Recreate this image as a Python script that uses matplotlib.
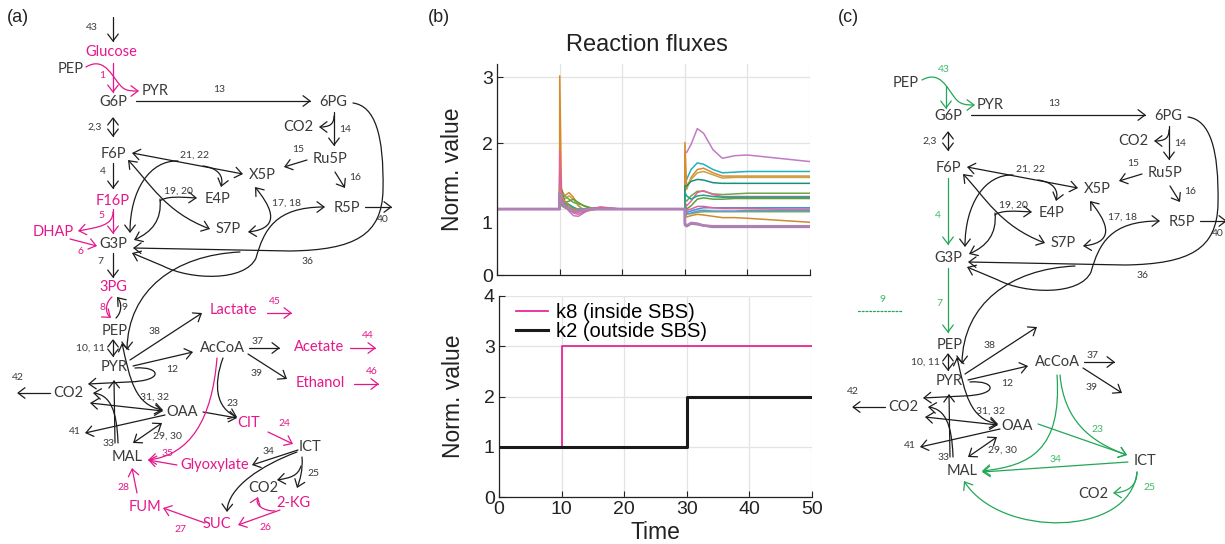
import matplotlib
matplotlib.use('Agg')
import matplotlib.pyplot as plt
from matplotlib.path import Path
from matplotlib.patches import FancyArrowPatch
import matplotlib.transforms as mtransforms

# ------------------------------------------------------------------ data (b)
time_pts = [0, 10, 10.02, 10.3, 10.8, 11.5, 12.2, 13, 14, 15, 16.5, 18, 20,
            30, 30.02, 30.3, 31, 32, 33, 34.5, 36, 38, 40, 45, 50]
flux_purple = [1, 1, 1.78, 1.2, 1.05, 0.97, 0.9, 0.89, 0.95, 1.0, 1.03, 1.02, 1.0,
               1.0, 1.85, 1.86, 1.98, 2.22, 2.15, 1.9, 1.77, 1.81, 1.82, 1.77, 1.72]
flux_cyan = [1, 1, 1.5, 1.22, 1.1, 1.07, 1.03, 0.98, 0.97, 0.99, 1.02, 1.01, 1.0,
             1.0, 1.4, 1.45, 1.6, 1.7, 1.68, 1.6, 1.55, 1.56, 1.57, 1.57, 1.57]
flux_orange = [1, 1, 3.02, 1.3, 1.2, 1.25, 1.18, 1.05, 0.97, 0.98, 1.01, 1.01, 1.0,
               1.0, 2.01, 1.3, 1.48, 1.6, 1.62, 1.55, 1.5, 1.5, 1.5, 1.5, 1.5]
flux_olive = [1, 1, 1.35, 1.2, 1.15, 1.2, 1.15, 1.05, 0.98, 0.99, 1.01, 1.0, 1.0,
              1.0, 1.3, 1.35, 1.45, 1.55, 1.57, 1.52, 1.47, 1.48, 1.48, 1.48, 1.48]
flux_teal = [1, 1, 1.55, 1.3, 1.12, 1.06, 1.0, 0.97, 0.98, 1.0, 1.01, 1.0, 1.0,
             1.0, 1.35, 1.35, 1.42, 1.45, 1.44, 1.4, 1.39, 1.39, 1.39, 1.39, 1.39]
flux_green = [1, 1, 1.45, 1.25, 1.2, 1.15, 1.1, 1.08, 1.05, 1.02, 1.01, 1.0, 1.0,
              1.0, 1.15, 1.12, 1.2, 1.27, 1.27, 1.23, 1.22, 1.23, 1.24, 1.24, 1.24]
flux_pink = [1, 1, 1.88, 1.25, 1.08, 1.0, 0.94, 0.92, 0.96, 1.0, 1.03, 1.01, 1.0,
             1.0, 1.1, 1.05, 1.12, 1.25, 1.28, 1.22, 1.19, 1.19, 1.19, 1.19, 1.19]
flux_teal2 = [1, 1, 1.3, 1.15, 1.08, 1.05, 1.02, 1.0, 1.0, 1.0, 1.0, 1.0, 1.0,
              1.0, 1.25, 1.2, 1.15, 1.2, 1.21, 1.19, 1.18, 1.18, 1.18, 1.18, 1.18]
flux_green2 = [1, 1, 1.2, 1.12, 1.1, 1.12, 1.15, 1.1, 1.04, 1.01, 1.0, 1.0, 1.0,
               1.0, 1.08, 1.0, 1.05, 1.15, 1.17, 1.15, 1.15, 1.16, 1.16, 1.16, 1.16]
flux_blue = [1, 1, 1.25, 1.12, 1.06, 1.02, 0.98, 0.97, 0.99, 1.0, 1.0, 1.0, 1.0,
             1.0, 1.05, 0.95, 0.97, 1.0, 1.02, 1.02, 1.02, 1.02, 1.02, 1.02, 1.02]
flux_pink2 = [1, 1, 1.6, 1.15, 1.03, 0.98, 0.95, 0.95, 0.98, 1.01, 1.02, 1.0, 1.0,
              1.0, 1.02, 0.98, 1.0, 1.04, 1.04, 1.02, 1.01, 1.01, 1.01, 1.0, 1.0]
flux_green3 = [1, 1, 1.1, 1.05, 1.02, 1.0, 0.99, 1.0, 1.0, 1.0, 1.0, 1.0, 1.0,
               1.0, 0.97, 0.93, 0.93, 0.95, 0.96, 0.96, 0.96, 0.96, 0.96, 0.96, 0.96]
flux_blue2 = [1, 1, 1.15, 1.08, 1.03, 1.0, 0.99, 1.0, 1.0, 1.0, 1.0, 1.0, 1.0,
              1.0, 0.98, 0.92, 0.94, 0.97, 0.98, 0.97, 0.97, 0.97, 0.98, 0.98, 0.98]
flux_orange2 = [1, 1, 1.3, 1.2, 1.12, 1.05, 1.0, 0.98, 0.99, 1.0, 1.0, 1.0, 1.0,
                1.0, 0.95, 0.88, 0.9, 0.92, 0.91, 0.89, 0.87, 0.87, 0.86, 0.83, 0.8]
flux_mauve = [1, 1, 1.2, 1.1, 1.04, 1.0, 0.97, 0.97, 0.99, 1.0, 1.0, 1.0, 1.0,
              1.0, 0.76, 0.74, 0.78, 0.77, 0.75, 0.73, 0.73, 0.73, 0.73, 0.73, 0.73]
flux_purple2 = [1, 1, 1.25, 1.12, 1.05, 1.0, 0.96, 0.96, 0.99, 1.0, 1.0, 1.0, 1.0,
                1.0, 0.78, 0.75, 0.79, 0.78, 0.75, 0.74, 0.74, 0.74, 0.74, 0.74, 0.74]

k8_time = [0, 10, 50]
k8_value = [1, 3, 3]
k2_time = [0, 30, 50]
k2_value = [1, 2, 2]
legend_labels = ['k8 (inside SBS)', 'k2 (outside SBS)']

# ------------------------------------------------------------------ figure
fig = plt.figure(figsize=(12.25, 5.44), dpi=100)
PLOT_FONT = ['Liberation Sans', 'DejaVu Sans']
DIAG_FONT = ['Lato', 'DejaVu Sans']

dax = fig.add_axes([0, 0, 1, 1])
dax.set_xlim(0, 1225)
dax.set_ylim(544, 0)
dax.axis('off')

TXT = '#3a3a3a'
LINE = '#1c1c1c'
PINK = '#e5178b'
GREEN = '#23a657'
GREEN_T = '#3cbc66'
NODE_FS = 10.5
NUM_FS = 7.5


def mkpath(spec, dx, dy):
    verts, codes = [], []
    x0, y0 = spec[0]
    verts.append((x0 + dx, y0 + dy)); codes.append(Path.MOVETO)
    for item in spec[1:]:
        if isinstance(item[0], (tuple, list)):
            for p in item:
                verts.append((p[0] + dx, p[1] + dy)); codes.append(Path.CURVE4)
        else:
            verts.append((item[0] + dx, item[1] + dy)); codes.append(Path.LINETO)
    return Path(verts, codes)


def arrow(spec, color=LINE, style='->', dx=0, dy=0, lw=0.9, ls='-'):
    if style == '-':
        st = '-'
    else:
        st = style + ',head_length=0.5,head_width=0.38'
    p = FancyArrowPatch(path=mkpath(spec, dx, dy), arrowstyle=st, mutation_scale=10,
                        color=color, lw=lw, linestyle=ls)
    dax.add_patch(p)


def txt(x, y, s, color=TXT, fs=NODE_FS, dx=0, dy=0):
    dax.text(x + dx, y + dy, s, color=color, fontsize=fs, ha='center', va='center',
             family=DIAG_FONT)


# ---------------- common network part (panel a coordinates)
common_nodes = ['PEP', 'PYR', 'G6P', '6PG', 'CO2', 'Ru5P', 'F6P', 'X5P', 'E4P', 'S7P',
                'R5P', 'G3P', 'PEP', 'PYR', 'AcCoA', 'CO2', 'OAA', 'MAL']
common_node_xy = [(71, 69), (155, 91), (113, 102), (333, 102), (298, 127), (330, 159),
                  (113, 154), (262, 175), (217, 199), (228, 229), (347, 208), (113, 244),
                  (115, 331), (114, 367), (222, 348), (68, 393), (182, 412), (127, 457)]
common_nums = ['13', '2,3', '14', '15', '16', '21, 22', '19, 20', '17, 18', '40', '36',
               '10, 11', '38', '12', '37', '39', '42', '31, 32', '41', '29, 30', '33']
common_num_xy = [(219, 90), (95, 127), (345, 130), (298, 150), (355, 177), (195, 155),
                 (178, 191), (287, 203), (383, 220), (308, 262), (90, 348), (155, 331),
                 (172, 369), (258, 341), (257, 373), (18, 377), (155, 397), (75, 432),
                 (167, 436), (109, 443)]

common_arrows = [
    ([(136, 101), (311, 101)], '->'),
    ([(113, 117), (113, 137)], '<->'),
    ([(334, 112), (334, 146)], '->'),
    ([(334, 116), ((334, 124), (330, 127), (319, 127))], '->'),
    ([(307, 160), (284, 167)], '->'),
    ([(335, 172), (345, 188)], '->'),
    ([(365, 207), (392, 207)], '->'),
    ([(132, 153), (243, 174)], '<->'),
    ([(178, 161), ((150, 160), (130, 190), (130, 233))], '->'),
    ([(203, 166), ((218, 168), (224, 176), (221, 187))], '->'),
    ([(128, 160), ((150, 183), (165, 212), (210, 229))], '<->'),
    ([(160, 201), ((166, 196), (180, 197), (197, 198))], '->'),
    ([(160, 199), ((162, 220), (152, 232), (134, 240))], '->'),
    ([(255, 187), ((268, 203), (285, 228), (248, 232))], '<->'),
    ([(132, 253), (163, 266), ((190, 280), (245, 282), (256, 258)),
      ((264, 230), (275, 207), (325, 207))], '<->'),
    ([(353, 103), ((375, 106), (384, 135), (383, 190)),
      ((382, 235), (355, 250), (290, 251)), (133, 248)], '->'),
    ([(240, 252), ((175, 255), (128, 290), (127, 350))], '->'),
    ([(113, 339), (113, 357)], '<->'),
    ([(130, 360), (202, 313)], '->'),
    ([(133, 366), (193, 352)], '->'),
    ([(135, 368), ((160, 366), (166, 381), (128, 382)), (88, 384)], '->'),
    ([(249, 348), (280, 348)], '->'),
    ([(248, 354), (287, 379)], '->'),
    ([(50, 393), (17, 393)], '->'),
    ([(122, 343), ((130, 380), (135, 405), (163, 410))], '<->'),
    ([(90, 403), (163, 411)], '<->'),
    ([(165, 415), (85, 433)], '->'),
    ([(133, 443), (162, 423)], '<->'),
    ([(115, 443), (114, 380)], '->'),
    ([(118, 443), ((117, 410), (110, 395), (93, 393))], '->'),
]


def draw_common(dx, dy):
    for s, (x, y) in zip(common_nodes, common_node_xy):
        txt(x, y, s, dx=dx, dy=dy)
    for s, (x, y) in zip(common_nums, common_num_xy):
        txt(x, y, s, fs=NUM_FS, dx=dx, dy=dy)
    for spec, st in common_arrows:
        arrow(spec, style=st, dx=dx, dy=dy)


# ---------------- panel (a)
draw_common(0, 0)
a_pink_nodes = ['Glucose', 'F16P', 'DHAP', '3PG', 'Lactate', 'Acetate', 'Ethanol', 'CIT',
                'Glyoxylate', '2-KG', 'SUC', 'FUM']
a_pink_xy = [(111, 52), (113, 201), (53, 232), (113, 287), (233, 310), (319, 347),
             (320, 383), (249, 423), (215, 465), (293, 503), (217, 524), (145, 507)]
for s, (x, y) in zip(a_pink_nodes, a_pink_xy):
    txt(x, y, s, color=PINK)
txt(310, 447, 'ICT')
txt(263, 488, 'CO2')
a_pink_nums = ['1', '5', '6', '8', '45', '44', '46', '24', '35', '26', '27', '28']
a_pink_num_xy = [(102, 76), (101, 215), (81, 252), (102, 307), (275, 302), (368, 335),
                 (372, 371), (284, 424), (168, 454), (265, 527), (180, 529), (123, 487)]
for s, (x, y) in zip(a_pink_nums, a_pink_num_xy):
    txt(x, y, s, color=PINK, fs=NUM_FS)
a_dark_nums = ['43', '4', '7', '9', '23', '34', '25']
a_dark_num_xy = [(92, 28), (103, 172), (100, 262), (125, 307), (232, 404), (268, 452),
                 (313, 473)]
for s, (x, y) in zip(a_dark_nums, a_dark_num_xy):
    txt(x, y, s, fs=NUM_FS)

arrow([(113, 17), (113, 42)])
arrow([(113, 63), (113, 93)], PINK)
arrow([(86, 67), ((106, 55), (113, 80), (123, 88)), ((127, 91), (132, 91), (139, 91))], PINK)
arrow([(113, 163), (113, 189)])
arrow([(113, 209), (113, 234)], PINK)
arrow([(113, 212), ((113, 225), (100, 227), (78, 231))], PINK)
arrow([(70, 239), (97, 246)], PINK)
arrow([(113, 253), (113, 278)])
arrow([(112, 297), ((105, 303), (105, 313), (111, 318))], PINK)
arrow([(116, 318), ((122, 312), (122, 303), (117, 297))])
arrow([(267, 313), (292, 313)], PINK)
arrow([(350, 348), (376, 348)], PINK)
arrow([(354, 384), (379, 384)], PINK)
arrow([(223, 358), ((213, 385), (216, 408), (237, 417))])
arrow([(203, 412), (237, 418)])
arrow([(268, 432), (293, 444)], PINK)
arrow([(298, 450), (252, 465)])
arrow([(177, 465), (148, 460)], PINK)
arrow([(217, 358), ((212, 420), (190, 455), (148, 460))], PINK)
arrow([(297, 452), ((262, 465), (228, 487), (227, 512))])
arrow([(302, 457), ((303, 470), (300, 480), (297, 488))])
arrow([(301, 466), ((298, 476), (290, 478), (277, 480))])
arrow([(280, 510), (238, 525)], PINK)
arrow([(275, 511), ((263, 511), (255, 505), (258, 497))], PINK)
arrow([(205, 523), (163, 508)], PINK)
arrow([(137, 493), (132, 468)], PINK)

# ---------------- panel (c)
OX, OY = 835, 14
draw_common(OX, OY)
txt(1145, 461, 'ICT')
txt(1093, 494, 'CO2')
c_green_nums = ['43', '4', '7', '9', '23', '34', '25']
c_green_num_xy = [(944, 69), (938, 216), (939, 303), (882, 299), (1097, 430), (1055, 460),
                  (1149, 488)]
for s, (x, y) in zip(c_green_nums, c_green_num_xy):
    txt(x, y, s, color=GREEN_T, fs=NUM_FS)
arrow([(922, 80), ((940, 70), (947, 88), (955, 98)), ((960, 105), (967, 105), (975, 105))], GREEN)
arrow([(946, 86), (946, 109)], GREEN)
arrow([(948, 178), (948, 245)], GREEN)
arrow([(948, 268), (948, 333)], GREEN)
arrow([(858, 311), (903, 311)], GREEN, style='-', ls=(0, (1.5, 1.5)))
arrow([(1038, 424), (1127, 455)], GREEN)
arrow([(1060, 375), ((1064, 420), (1090, 442), (1127, 455))], GREEN)
arrow([(1057, 375), ((1062, 450), (1030, 466), (982, 471))], GREEN)
arrow([(1128, 462), (982, 472)], GREEN)
arrow([(1137, 472), ((1137, 486), (1128, 492), (1113, 493))], GREEN)
arrow([(1137, 472), ((1130, 538), (1000, 538), (964, 481))], GREEN)

# panel letters
for s, x in zip(['(a)', '(b)', '(c)'], [7, 428, 838]):
    dax.text(x, 18, s, fontsize=13, ha='left', va='center', family=PLOT_FONT, color='#222222')

# ------------------------------------------------------------------ panel (b)
W = 1225.0
H = 544.0
ax1 = fig.add_axes([497 / W, 1 - 275 / H, 313 / W, 211 / H])
ax2 = fig.add_axes([499 / W, 1 - 497 / H, 313 / W, 201 / H])

flux_series = [flux_purple, flux_cyan, flux_orange, flux_olive, flux_teal, flux_green,
               flux_pink, flux_teal2, flux_green2, flux_blue, flux_pink2, flux_green3,
               flux_blue2, flux_orange2, flux_mauve, flux_purple2]
flux_colors = ['#c07bc5', '#1fb1c0', '#d98b2c', '#c9a246', '#14917d', '#6fa84a',
               '#ee5f98', '#1aa58c', '#5e9f3e', '#4a8fd6', '#e0609f', '#7aa955',
               '#5b9bd5', '#d08a2e', '#a27aa6', '#b080b6']
for vals, c in zip(flux_series, flux_colors):
    lw = 1.8 if c in ('#a27aa6', '#b080b6') else 1.1
    ax1.plot(time_pts, vals, color=c, lw=lw)

ax2.plot(k8_time, k8_value, drawstyle='steps-post', color='#e8158c', lw=1.2,
         label=legend_labels[0])
ax2.plot(k2_time, k2_value, drawstyle='steps-post', color='#1a1a1a', lw=2.2,
         label=legend_labels[1])

for ax in (ax1, ax2):
    ax.set_xlim(0, 50)
    ax.set_xticks([0, 10, 20, 30, 40, 50])
    ax.grid(True, color='#e3e3e3', lw=0.9)
    ax.set_axisbelow(True)
    for sp in ('top', 'right'):
        ax.spines[sp].set_visible(False)
    for sp in ('left', 'bottom'):
        ax.spines[sp].set_linewidth(0.9)
        ax.spines[sp].set_color('#222222')
    ax.tick_params(direction='in', length=4, width=0.8, labelsize=14, pad=3,
                   colors='#222222')
    for lab in ax.get_xticklabels() + ax.get_yticklabels():
        lab.set_family(PLOT_FONT)
    ax.set_facecolor('none')

ax1.set_ylim(0, 3.2)
ax1.set_yticks([0, 1, 2, 3])
ax1.set_xticklabels([])
ax1.set_ylabel('Norm. value', fontsize=16.5, family=PLOT_FONT, color='#222222')
ax1.yaxis.set_label_coords(-0.105, 0.5)
ylabs = ax1.get_yticklabels()
ylabs[1].set_transform(ylabs[1].get_transform() +
                       mtransforms.ScaledTranslation(0, -0.13, fig.dpi_scale_trans))

ax2.set_ylim(0, 4)
ax2.set_yticks([0, 1, 2, 3, 4])
ax2.set_ylabel('Norm. value', fontsize=16.5, family=PLOT_FONT, color='#222222')
ax2.yaxis.set_label_coords(-0.11, 0.5)
ax2.set_xlabel('Time', fontsize=16.5, family=PLOT_FONT, color='#222222')
ax2.xaxis.set_label_coords(0.5, -0.12)
ax2.legend(loc='upper left', bbox_to_anchor=(0.04, 0.985), frameon=False,
           prop={'family': PLOT_FONT, 'size': 14.5}, handlelength=1.6, handletextpad=0.4,
           labelspacing=0.0, borderaxespad=0.0, borderpad=0.2)

fig.text(647 / W, 1 - 45 / H, 'Reaction fluxes', fontsize=17, ha='center', va='center',
         family=PLOT_FONT, color='#222222')

fig.savefig('out.png', dpi=100)
